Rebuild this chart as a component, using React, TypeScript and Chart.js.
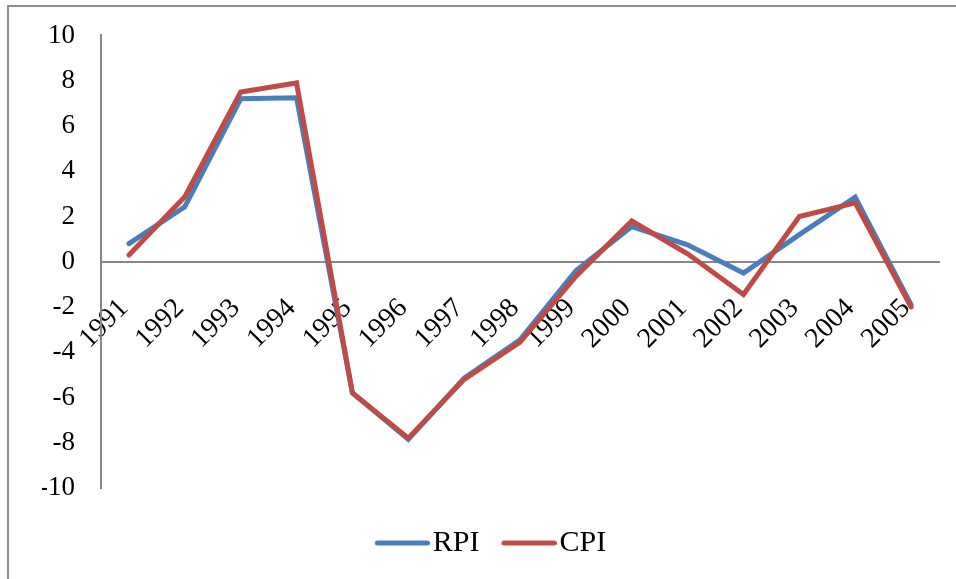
import React, { useEffect, useRef } from "react";
import { Chart, registerables } from "chart.js";

Chart.register(...registerables);

const years = ["1991","1992","1993","1994","1995","1996","1997","1998","1999","2000","2001","2002","2003","2004","2005"];
const rpi = [0.8, 2.43, 7.2, 7.25, -5.8, -7.85, -5.15, -3.45, -0.4, 1.55, 0.75, -0.5, 1.2, 2.85, -1.9];
const cpi = [0.3, 2.87, 7.5, 7.9, -5.8, -7.8, -5.2, -3.55, -0.65, 1.8, 0.35, -1.45, 2.0, 2.6, -2.0];
const yTicks = [-10, -8, -6, -4, -2, 0, 2, 4, 6, 8, 10];

const FONT = "'Liberation Serif', 'Times New Roman', serif";
const AXIS_COLOR = "#868686";
const BLUE = "#4A7EBB";
const RED = "#BE4B48";

function lineImage(color: string): HTMLCanvasElement {
  const c = document.createElement("canvas");
  c.width = 67;
  c.height = 8;
  const ctx = c.getContext("2d")!;
  ctx.strokeStyle = color;
  ctx.lineWidth = 5;
  ctx.lineCap = "round";
  ctx.beginPath();
  ctx.moveTo(14.5, 4);
  ctx.lineTo(64.5, 4);
  ctx.stroke();
  return c;
}

export default function App() {
  const ref = useRef<HTMLCanvasElement | null>(null);
  useEffect(() => {
    if (!ref.current) return;
    const chart = new Chart(ref.current, {
      type: "line",
      data: {
        labels: years,
        datasets: [
          {
            label: "RPI",
            data: rpi,
            borderColor: BLUE,
            backgroundColor: BLUE,
            borderWidth: 5,
            pointRadius: 0,
            pointStyle: lineImage(BLUE) as any,
            tension: 0,
            borderCapStyle: "round",
            borderJoinStyle: "miter",
            order: 1,
          },
          {
            label: "CPI",
            data: cpi,
            borderColor: RED,
            backgroundColor: RED,
            borderWidth: 5,
            pointRadius: 0,
            pointStyle: lineImage(RED) as any,
            tension: 0,
            borderCapStyle: "round",
            borderJoinStyle: "miter",
            order: 0,
          },
        ],
      },
      options: {
        animation: false,
        responsive: false,
        devicePixelRatio: 1,
        layout: { padding: { left: 42, right: 17, top: 0, bottom: 11 } },
        plugins: {
          tooltip: { enabled: false },
          legend: {
            position: "bottom",
            title: { display: true, text: "", padding: 0, font: { size: 18, lineHeight: 1 } },
            labels: {
              usePointStyle: true,
              pointStyleWidth: 43,
              boxHeight: 30,
              padding: 22,
              color: "#000",
              font: { family: FONT, size: 30 },
              sort: (a: any, b: any) => a.datasetIndex - b.datasetIndex,
            },
          },
        },
        scales: {
          x: {
            position: { y: 0 } as any,
            offset: true,
            grid: { display: false, drawTicks: false, offset: true },
            border: { display: true, color: AXIS_COLOR, width: 2 },
            ticks: {
              autoSkip: false,
              minRotation: 45,
              maxRotation: 45,
              padding: 40,
              labelOffset: -5,
              color: "#000",
              font: { family: FONT, size: 28, lineHeight: "6px" as any },
            },
          },
          y: {
            min: -10,
            max: 10,
            afterBuildTicks: (scale: any) => {
              scale.ticks = yTicks.map((v) => ({ value: v }));
            },
            afterFit: (scale: any) => {
              scale.width = 59;
            },
            grid: { display: false, drawTicks: false },
            border: { display: true, color: AXIS_COLOR, width: 2 },
            ticks: {
              padding: 26,
              color: "#000",
              font: { family: FONT, size: 27, lineHeight: 0.7 },
            },
          },
        },
      },
    });
    return () => chart.destroy();
  }, []);

  return (
    <div style={{ position: "fixed", left: 0, top: 0, width: 956, height: 579, overflow: "hidden", background: "#fff" }}>
      <div
        style={{
          position: "absolute",
          left: 7,
          top: 5,
          width: 2000,
          height: 2000,
          borderLeft: "2px solid #8e8e8e",
          borderTop: "2px solid #8e8e8e",
        }}
      />
      <canvas ref={ref} width={956} height={579} style={{ position: "absolute", left: 0, top: 0, width: 956, height: 579 }} />
    </div>
  );
}
